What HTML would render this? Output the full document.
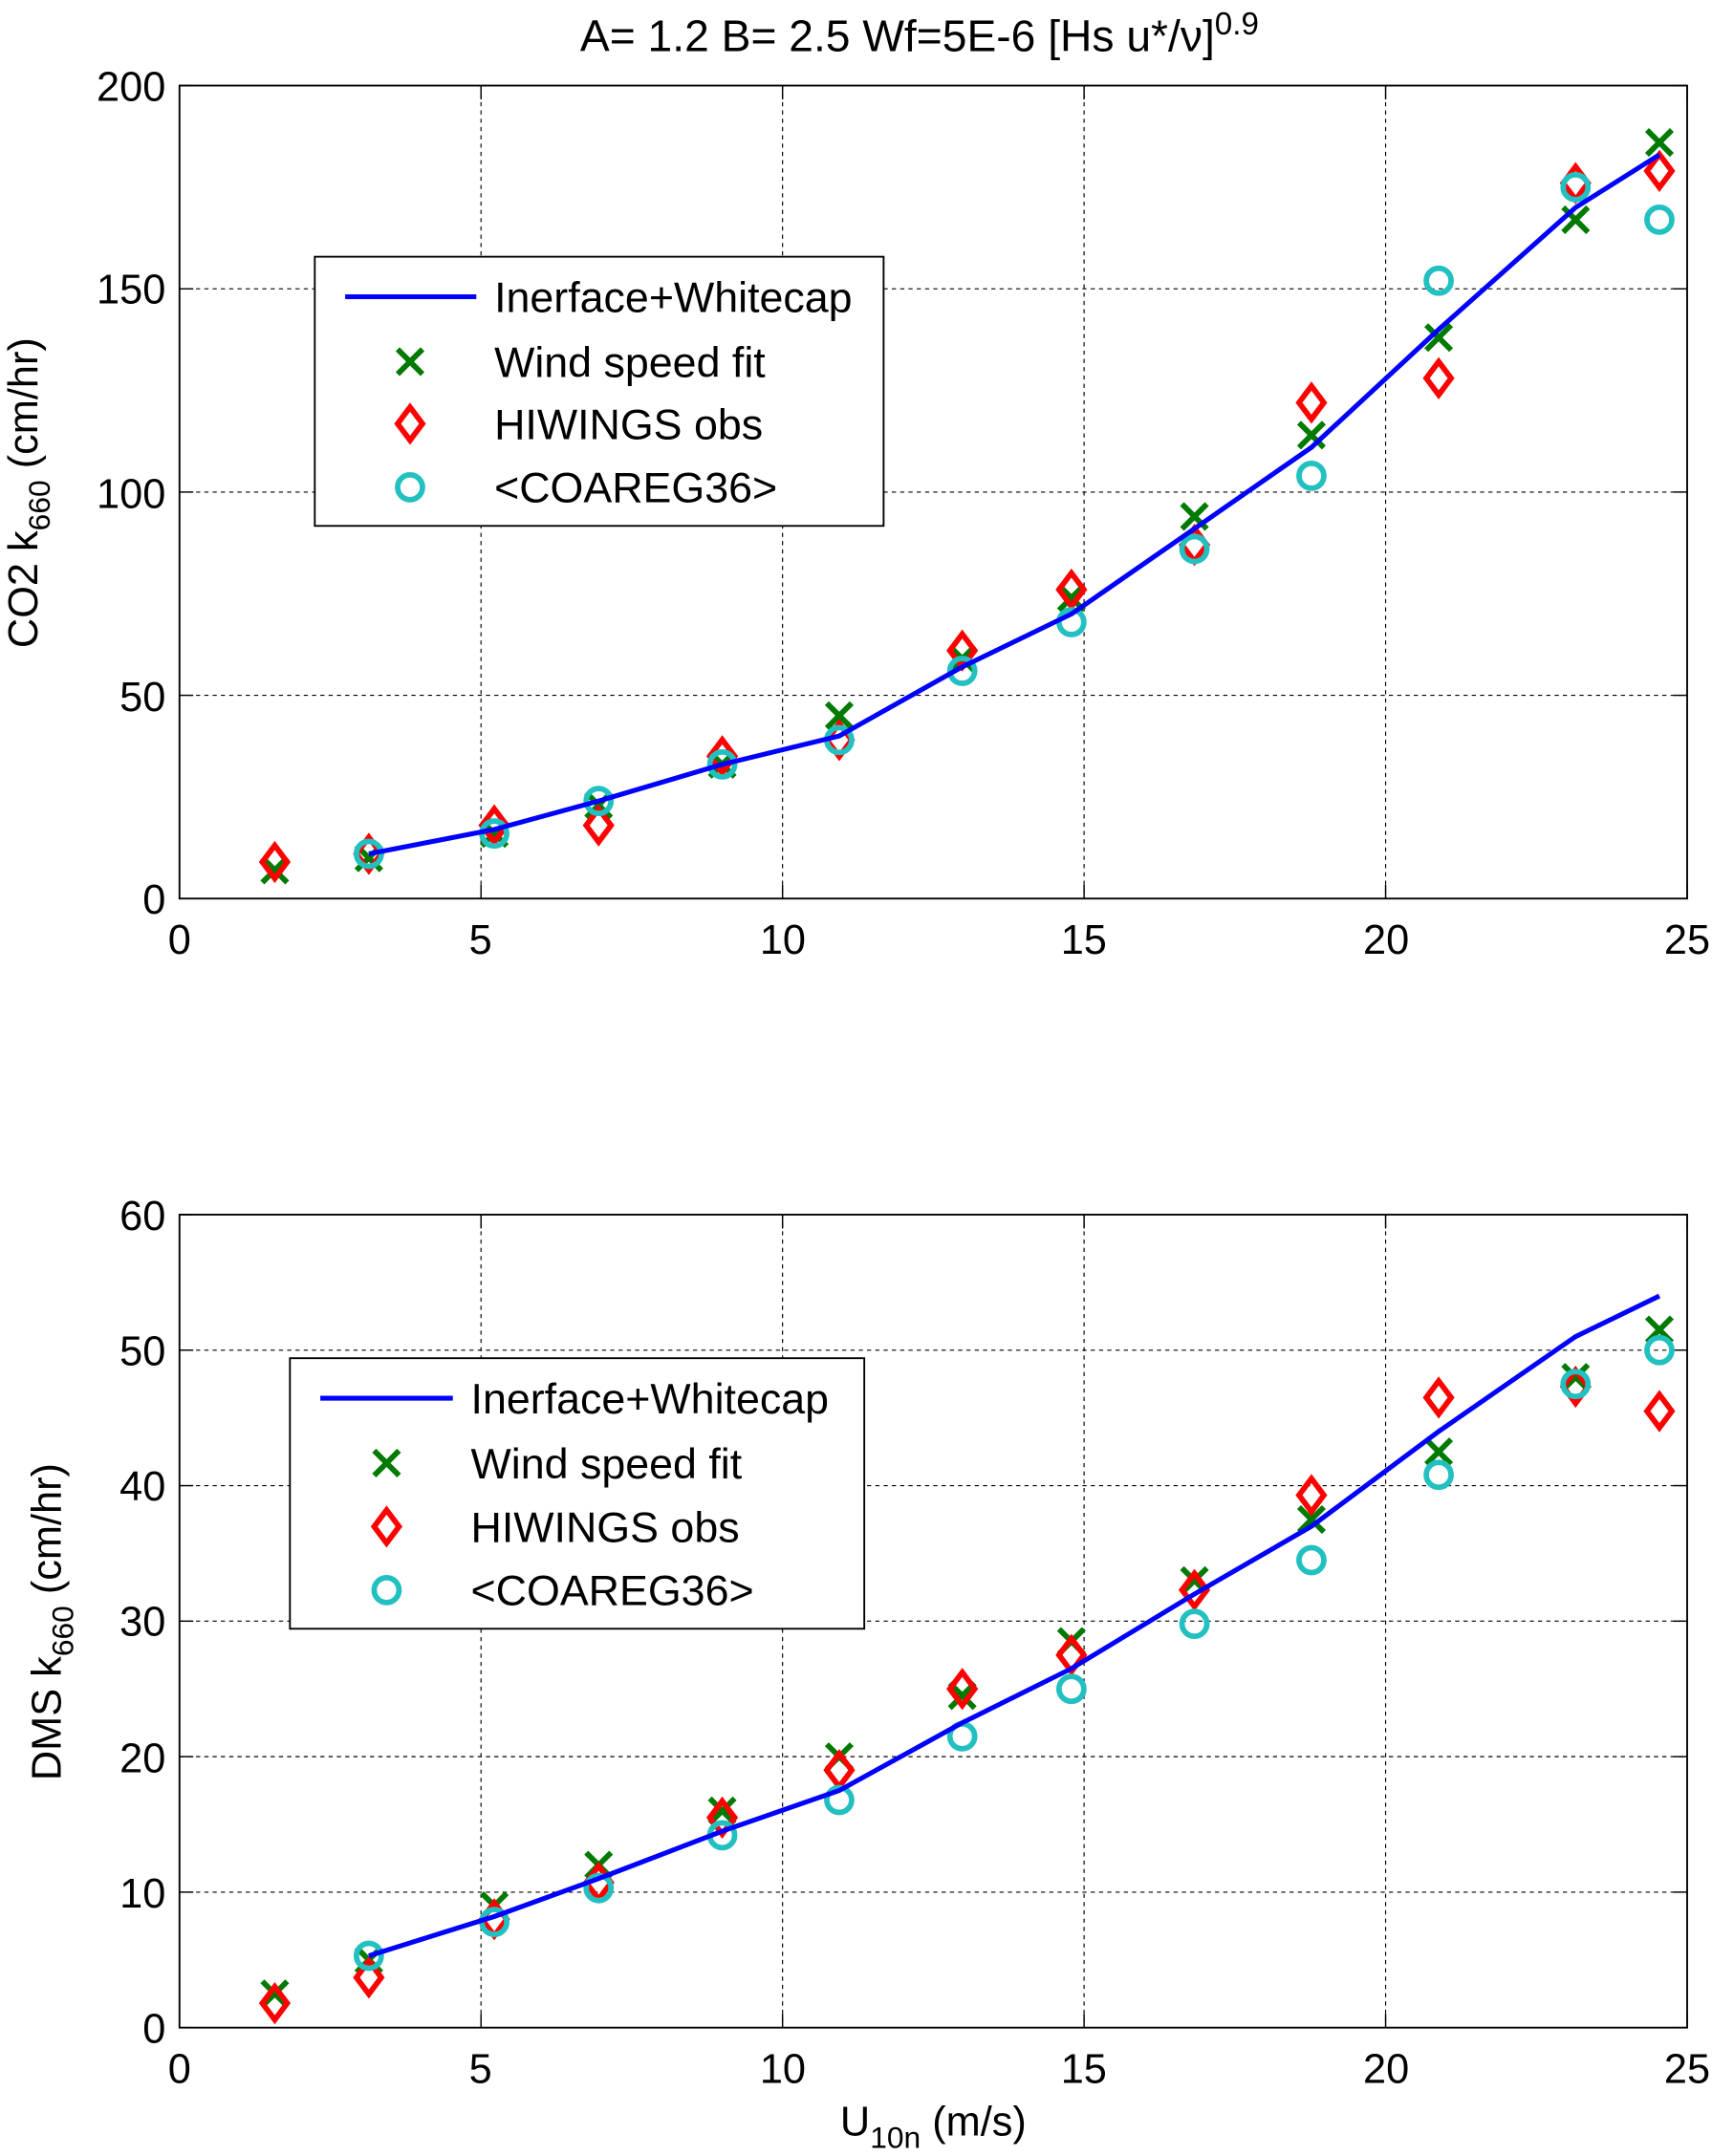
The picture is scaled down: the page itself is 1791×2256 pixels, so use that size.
<!DOCTYPE html>
<html><head><meta charset="utf-8"><style>
html,body{margin:0;padding:0;background:#fff;}
svg{display:block;font-family:"Liberation Sans",Arial,sans-serif;}
</style></head><body>
<svg id="s" width="1791" height="2256" viewBox="0 0 1240 1562" preserveAspectRatio="none" xmlns="http://www.w3.org/2000/svg">
<rect width="1240" height="1562" fill="#fff"/>
<g id="g1"></g>
<g id="g2"></g>
<g font-size="30" fill="#000">
<text x="666" y="37" text-anchor="middle" font-size="32">A= 1.2 B= 2.5 Wf=5E-6 [Hs u*/ν]<tspan dy="-12" font-size="23">0.9</tspan></text>
<g text-anchor="end">
<text x="120" y="73">200</text><text x="120" y="220">150</text><text x="120" y="368">100</text><text x="120" y="515">50</text><text x="120" y="662">0</text>
<text x="120" y="891">60</text><text x="120" y="989">50</text><text x="120" y="1087">40</text><text x="120" y="1185">30</text><text x="120" y="1284">20</text><text x="120" y="1382">10</text><text x="120" y="1480">0</text>
</g>
<g text-anchor="middle">
<text x="130" y="691">0</text><text x="348" y="691">5</text><text x="567" y="691">10</text><text x="785" y="691">15</text><text x="1004" y="691">20</text><text x="1222" y="691">25</text>
<text x="130" y="1509">0</text><text x="348" y="1509">5</text><text x="567" y="1509">10</text><text x="785" y="1509">15</text><text x="1004" y="1509">20</text><text x="1222" y="1509">25</text>
<text x="676" y="1547">U<tspan dy="9" font-size="22">10n</tspan><tspan dy="-9"> (m/s)</tspan></text>
</g>
<text transform="translate(27,357) rotate(-90)" text-anchor="middle">CO2 k<tspan dy="9" font-size="22">660</tspan><tspan dy="-9"> (cm/hr)</tspan></text>
<text transform="translate(44,1175) rotate(-90)" text-anchor="middle">DMS k<tspan dy="9" font-size="22">660</tspan><tspan dy="-9"> (cm/hr)</tspan></text>
</g>
<g font-size="31" fill="#000">
<rect x="228" y="186" width="412" height="195" fill="#fff" stroke="#000" stroke-width="1.3"/>
<line x1="250" y1="215" x2="345" y2="215" stroke="#0000ff" stroke-width="3.5"/>
<text x="358" y="226">Inerface+Whitecap</text>
<text x="358" y="273">Wind speed fit</text>
<text x="358" y="318">HIWINGS obs</text>
<text x="358" y="364">&lt;COAREG36&gt;</text>
<rect x="210" y="984" width="416" height="196" fill="#fff" stroke="#000" stroke-width="1.3"/>
<line x1="232" y1="1013" x2="328" y2="1013" stroke="#0000ff" stroke-width="3.5"/>
<text x="341" y="1024">Inerface+Whitecap</text>
<text x="341" y="1071">Wind speed fit</text>
<text x="341" y="1117">HIWINGS obs</text>
<text x="341" y="1163">&lt;COAREG36&gt;</text>
</g>
<g id="lm"></g>
</svg>
<script>
var NS="http://www.w3.org/2000/svg";
function el(p,t,a){var e=document.createElementNS(NS,t);for(var k in a)e.setAttribute(k,a[k]);p.appendChild(e);return e;}
function cross(p,x,y){el(p,"path",{d:"M"+(x-9)+" "+(y-9)+"L"+(x+9)+" "+(y+9)+"M"+(x-9)+" "+(y+9)+"L"+(x+9)+" "+(y-9),stroke:"#007a00","stroke-width":4,fill:"none"});}
function dia(p,x,y){el(p,"path",{d:"M"+x+" "+(y-12)+"L"+(x+9)+" "+y+"L"+x+" "+(y+12)+"L"+(x-9)+" "+y+"Z",stroke:"#ff0000","stroke-width":4,fill:"none"});}
function circ(p,x,y){el(p,"circle",{cx:x,cy:y,r:9,stroke:"#22c0c0","stroke-width":4,fill:"none"});}
var xs=[1.58,3.14,5.22,6.95,9.0,10.94,12.98,14.79,16.83,18.77,20.88,23.15,24.54];
function plot(g,top,bot,ymax,ticks,line,cr,di,ci){
  var X=function(v){return 130+v*(1092/25)},Y=function(v){return bot-(v/ymax)*(bot-top)};
  var G=document.getElementById(g);
  for(var i=1;i<5;i++)el(G,"line",{x1:X(i*5),x2:X(i*5),y1:top,y2:bot,stroke:"#000","stroke-width":0.8,"stroke-dasharray":"3,3"});
  ticks.forEach(function(t){if(t>0&&t<ymax)el(G,"line",{x1:130,x2:1222,y1:Y(t),y2:Y(t),stroke:"#000","stroke-width":0.8,"stroke-dasharray":"3,3"});});
  el(G,"rect",{x:130,y:top,width:1092,height:bot-top,fill:"none",stroke:"#000","stroke-width":1.3});
  for(var i=0;i<=5;i++){el(G,"line",{x1:X(i*5),x2:X(i*5),y1:bot,y2:bot-10,stroke:"#000"});el(G,"line",{x1:X(i*5),x2:X(i*5),y1:top,y2:top+10,stroke:"#000"});}
  ticks.forEach(function(t){el(G,"line",{x1:130,x2:140,y1:Y(t),y2:Y(t),stroke:"#000"});el(G,"line",{x1:1212,x2:1222,y1:Y(t),y2:Y(t),stroke:"#000"});});
  var d="";line.forEach(function(v,i){d+=(i?"L":"M")+X(xs[i+1])+" "+Y(v);});
  cr.forEach(function(v,i){cross(G,X(xs[i]),Y(v));});
  di.forEach(function(v,i){dia(G,X(xs[i]),Y(v));});
  ci.forEach(function(v,i){circ(G,X(xs[i+1]),Y(v));});
  el(G,"path",{d:d,stroke:"#0000ff","stroke-width":3.5,fill:"none"});
}
plot("g1",62,651,200,[0,50,100,150,200],
 [11,17,24,33,40,57,70,91,111,140,170,183],
 [7,10,16,23,33,45,59,74,94,114,138,167,186],
 [9,11,18,18,35,39,61,76,87,122,128,176,179],
 [11,16,24,33,39,56,68,86,104,152,175,167]);
plot("g2",880,1469,60,[0,10,20,30,40,50,60],
 [5.3,8.2,11,14.5,17.5,22.5,26.5,32,37,44,51,54],
 [2.5,5,9,12,16,20,24.5,28.5,33,37.5,42.5,48,51.5],
 [1.8,3.7,8,10.7,15.5,19,25,27.5,32.3,39.3,46.5,47.3,45.5],
 [5.3,7.8,10.3,14.2,16.8,21.5,25,29.8,34.5,40.8,47.5,50]);
var L=document.getElementById("lm");
cross(L,297,262);dia(L,297,307);circ(L,297,353);
cross(L,280,1060);dia(L,280,1106);circ(L,280,1152);
</script>
</body></html>
